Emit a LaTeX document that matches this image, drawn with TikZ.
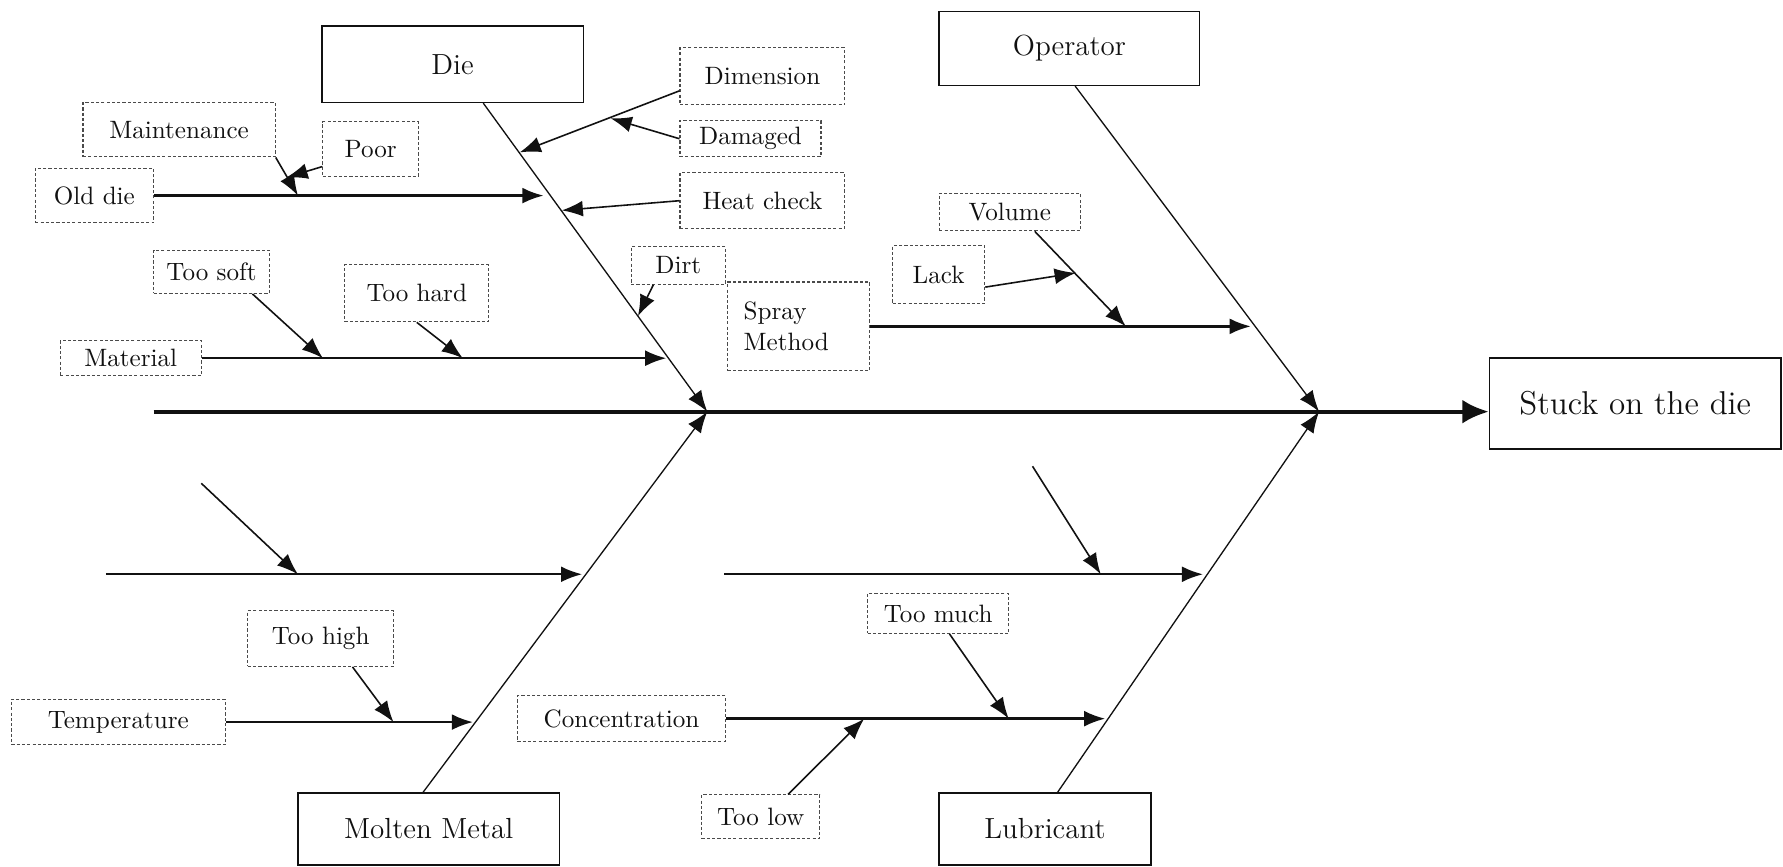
\documentclass[tikz,border=0pt]{standalone}
\usepackage{tikz}
\usepackage{xcolor}
\usetikzlibrary{arrows.meta,calc}
\definecolor{Ink}{HTML}{111111}
\definecolor{Dots}{HTML}{4A4A4A}
\definecolor{Paper}{HTML}{FFFFFF}
\newcommand{\unitpx}{0.15124mm}

\begin{document}
\begin{tikzpicture}[x=0.15124mm,y=-0.15124mm,
  boxsize/.style 2 args={minimum width=#1*\unitpx,minimum height=#2*\unitpx},
  mainbox/.style={draw=Ink,line width=0.6pt,fill=Paper,inner sep=0pt,text=Ink,
    font=\fontsize{11}{13}\selectfont},
  subbox/.style={draw=Dots,line width=0.4pt,dash pattern=on 1.2pt off 0.8pt,fill=Paper,
    inner sep=0pt,text=Ink,font=\fontsize{9.5}{12}\selectfont},
  bone/.style={draw=Ink,line width=0.5pt,-{Latex[length=8pt,width=6pt]}},
  branch/.style={draw=Ink,line width=0.9pt,-{Latex[length=8pt,width=6pt]}},
  twig/.style={draw=Ink,line width=0.6pt,-{Latex[length=8pt,width=6pt]}},
  spine/.style={draw=Ink,line width=1.6pt,-{Latex[length=10pt,width=9pt]}}]
\path[use as bounding box,fill=Paper] (0,0) rectangle (1568,762);

\node[mainbox,boxsize={230}{67}] (die) at (398,56.5) {Die};
\node[mainbox,boxsize={229}{65}] (operator) at (940.5,42.5) {Operator};
\node[mainbox,boxsize={256}{80},font=\fontsize{12.5}{15}\selectfont] (stuck) at (1438,355)
  {Stuck on the die};
\node[mainbox,boxsize={230}{63}] (molten) at (377,729) {Molten Metal};
\node[mainbox,boxsize={186}{63}] (lubricant) at (919,729) {Lubricant};

\node[subbox,boxsize={145}{50}] (dimension) at (670.5,67) {Dimension};
\node[subbox,boxsize={169}{48}] (maintenance) at (157.5,114) {Maintenance};
\node[subbox,boxsize={84}{48}] (poor) at (326,131) {Poor};
\node[subbox,boxsize={124}{32}] (damaged) at (660,122) {Damaged};
\node[subbox,boxsize={104}{48}] (olddie) at (83,172) {Old die};
\node[subbox,boxsize={145}{49}] (heatcheck) at (670.5,176.5) {Heat check};
\node[subbox,boxsize={83}{33}] (dirt) at (596.5,233.5) {Dirt};
\node[subbox,boxsize={125}{78},align=left,text width=97*\unitpx] (spray) at (702.5,287)
  {Spray\\Method};
\node[subbox,boxsize={124}{33}] (volume) at (888,186.5) {Volume};
\node[subbox,boxsize={81}{51}] (lack) at (825.5,241.5) {Lack};
\node[subbox,boxsize={102}{38}] (toosoft) at (186,239) {Too soft};
\node[subbox,boxsize={127}{50}] (toohard) at (366.5,258) {Too hard};
\node[subbox,boxsize={124}{31}] (material) at (115,315) {Material};
\node[subbox,boxsize={128}{49}] (toohigh) at (282,561.5) {Too high};
\node[subbox,boxsize={188}{40}] (temperature) at (104,635) {Temperature};
\node[subbox,boxsize={183}{40}] (concentration) at (546.5,632) {Concentration};
\node[subbox,boxsize={104}{38}] (toolow) at (669,718) {Too low};
\node[subbox,boxsize={124}{35}] (toomuch) at (825,539.5) {Too much};

\coordinate (spineL) at (135,362);
\coordinate (hubDie) at (622,362);
\coordinate (hubOp) at (1160,362);
\coordinate (jOld) at (478,172);
\coordinate (jMat) at (586,315);
\coordinate (jSpray) at (1100,287);
\coordinate (jDim) at (457,134);
\coordinate (jDam) at (537,104);
\coordinate (jHeat) at (494,185);
\coordinate (jDirt) at (561,278);
\coordinate (jMaint) at (262,172);
\coordinate (jPoor) at (252,156);
\coordinate (jSoft) at (284,315);
\coordinate (jHard) at (407,315);
\coordinate (jVol) at (990,287);
\coordinate (jLack) at (946,240);
\coordinate (uLeft) at (93,505);
\coordinate (jU1) at (512,505);
\coordinate (uMid) at (637,505);
\coordinate (jU2) at (1058,505);
\coordinate (u1a) at (177,425);
\coordinate (jU1b) at (262,505);
\coordinate (u2a) at (908,410);
\coordinate (jU2b) at (968,505);
\coordinate (jTemp) at (416,635);
\coordinate (jHigh) at (346,635);
\coordinate (jConc) at (972,632);
\coordinate (jLow) at (760,632);
\coordinate (jMuch) at (887,632);

\draw[spine] (spineL) -- (spineL -| stuck.west);
\draw[bone] ($(die.south)+(27,0)$) -- (hubDie);
\draw[bone] ($(molten.north)+(-5,0)$) -- (hubDie);
\draw[bone] ($(operator.south)+(5,0)$) -- (hubOp);
\draw[bone] ($(lubricant.north)+(11,0)$) -- (hubOp);

\draw[branch] (olddie.east) -- (jOld);
\draw[branch] (material.east) -- (jMat);
\draw[branch] (spray.east) -- (jSpray);
\draw[branch] (uLeft) -- (jU1);
\draw[branch] (uMid) -- (jU2);
\draw[branch] (temperature.east) -- (jTemp);
\draw[branch] (concentration.east) -- (jConc);

\draw[twig] (dimension.190) -- (jDim);
\draw[twig] (damaged.west) -- (jDam);
\draw[twig] (heatcheck.west) -- (jHeat);
\draw[twig] ($(dirt.south west)+(20,0)$) -- (jDirt);
\draw[twig] (maintenance.south east) -- (jMaint);
\draw[twig] (poor.200) -- (jPoor);
\draw[twig] ($(toosoft.south)+(36,0)$) -- (jSoft);
\draw[twig] (toohard.south) -- (jHard);
\draw[twig] ($(volume.south)+(22,0)$) -- (jVol);
\draw[twig] (lack.345) -- (jLack);
\draw[twig] (u1a) -- (jU1b);
\draw[twig] (u2a) -- (jU2b);
\draw[twig] ($(toohigh.south)+(28,0)$) -- (jHigh);
\draw[twig] ($(toolow.north)+(24,0)$) -- (jLow);
\draw[twig] ($(toomuch.south)+(10,0)$) -- (jMuch);
\end{tikzpicture}
\end{document}
